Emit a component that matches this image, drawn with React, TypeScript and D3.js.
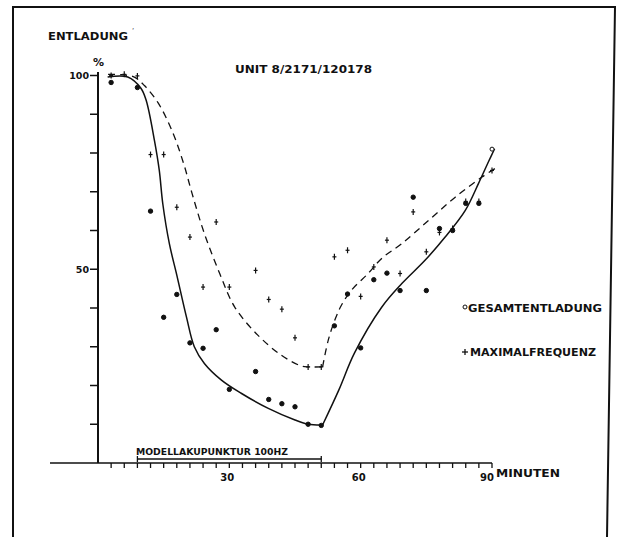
import React from 'react'
import * as d3 from 'd3'

// Gesamtentladung (o) – Messpunkte
const gesamtMinutes = [3, 9, 12, 15, 18, 21, 24, 27, 30, 36, 39, 42, 45, 48, 51, 54, 57, 60, 63, 66, 69, 72, 75, 78, 81, 84, 87, 90]
const gesamtValues = [98.2, 96.9, 65, 37.6, 43.5, 31, 29.6, 34.4, 19, 23.6, 16.4, 15.3, 14.5, 10, 9.7, 35.4, 43.6, 29.7, 47.3, 49, 44.5, 68.6, 44.5, 60.5, 60, 67, 67, 81]

// Maximalfrequenz (+) – Messpunkte
const maxMinutes = [3, 6, 9, 12, 15, 18, 21, 24, 27, 30, 36, 39, 42, 45, 48, 51, 54, 57, 60, 63, 66, 69, 72, 75, 78, 81, 84, 87, 90]
const maxValues = [100, 100.3, 99.9, 79.6, 79.6, 66, 58.3, 45.4, 62.2, 45.4, 49.7, 42.2, 39.7, 32.3, 24.8, 24.8, 53.2, 54.9, 43, 50.6, 57.5, 48.9, 64.8, 54.5, 59.5, 60.5, 67.5, 67.5, 75.5]

// hand-drawn trend curves (solid = Gesamtentladung, dashed = Maximalfrequenz)
const solidDownMin = [2.2, 6.8, 9.8, 11, 12.9, 14, 14.8, 16.3, 18, 20.2, 22, 24.3, 28.2, 32.7, 38.9, 45, 48, 51.3]
const solidDownVal = [99.6, 99.6, 96.7, 93.6, 83.2, 75.5, 66.9, 56.6, 48.5, 37.7, 30, 25.7, 21.4, 18, 14.1, 11.1, 10, 9.8]
const solidUpMin = [51.3, 55, 58.6, 64.8, 69.4, 74.7, 79.3, 83.9, 86.9, 89.3, 90.6]
const solidUpVal = [9.8, 18.8, 28.4, 40.2, 46.3, 52.3, 58.3, 65.2, 72.1, 78, 81.1]

const dashedDownMin = [2.3, 5.3, 8.3, 10.6, 13.7, 17, 19.5, 21.5, 24.3, 27.8, 31.2, 36.5, 41.9, 46.5, 48.2, 51.3]
const dashedDownVal = [100.3, 100.2, 99.6, 97.4, 93, 85.5, 77.5, 69.5, 59.2, 48.9, 40.3, 33, 27.8, 25, 24.8, 24.8]
const dashedUpMin = [51.3, 52.6, 54.1, 55.6, 57.9, 61.7, 64.8, 69.4, 75.5, 81.6, 87.7, 90.7]
const dashedUpVal = [24.8, 31.7, 36.9, 40.7, 44.6, 48.9, 52.8, 56.6, 62.6, 68.6, 73.8, 76]

const xTickLabels = [30, 60, 90]
const yTickLabels = [100, 50]
const stimStart = 9
const stimEnd = 51

const W = 617
const H = 537
const font = '"DejaVu Sans", "Liberation Sans", sans-serif'

const x = d3.scaleLinear().domain([0, 90]).range([98, 492])
const y = d3.scaleLinear().domain([0, 100]).range([463, 75.5])

const line = d3
  .line<[number, number]>()
  .x(d => x(d[0]))
  .y(d => y(d[1]))
  .curve(d3.curveCatmullRom.alpha(0.5))

const pts = (m: number[], v: number[]) => m.map((d, i) => [d, v[i]] as [number, number])

export default function App() {
  const xTicks = d3.range(0, 91, 3)
  const yTicks = d3.range(10, 101, 10)
  const ink = '#111'

  return (
    <svg
      width={W}
      height={H}
      style={{ position: 'absolute', left: 0, top: 0, background: '#fff' }}
      fontFamily={font}
      fontWeight="bold"
      fill={ink}
    >
      {/* frame */}
      <path d={`M13,${H} L13,7 L615,7 L607,${H}`} fill="none" stroke={ink} strokeWidth={2} />

      {/* axes */}
      <line x1={x(0)} x2={x(0)} y1={72} y2={y(0)} stroke={ink} strokeWidth={2} />
      <line x1={50} x2={x(90)} y1={y(0)} y2={y(0)} stroke={ink} strokeWidth={1.6} />
      {yTicks.map(t => (
        <line key={t} x1={x(0) - 8} x2={x(0)} y1={y(t)} y2={y(t)} stroke={ink} strokeWidth={1.5} />
      ))}
      {xTicks.slice(1).map(t => (
        <line key={t} x1={x(t)} x2={x(t)} y1={y(0)} y2={y(0) + 5} stroke={ink} strokeWidth={1.3} />
      ))}
      {yTickLabels.map(t => (
        <text key={t} x={x(0) - 9} y={y(t)} dy="0.36em" textAnchor="end" fontSize={9.5}>
          {t}
        </text>
      ))}
      {xTickLabels.map(t => (
        <text key={t} x={t === 90 ? x(t) - 5 : x(t) - 2} y={y(0) + 18} textAnchor="middle" fontSize={10}>
          {t}
        </text>
      ))}
      <text x={x(90) + 4} y={y(0) + 14} fontSize={10} textLength={64} lengthAdjust="spacingAndGlyphs">
        MINUTEN
      </text>

      <text x={48} y={40} fontSize={10} textLength={80} lengthAdjust="spacingAndGlyphs">
        ENTLADUNG
      </text>
      <text x={132} y={33} fontSize={7} fontWeight="normal">
        ʻ
      </text>
      <text x={x(0) - 5} y={66} fontSize={11}>
        %
      </text>
      <text x={235} y={73} fontSize={11} textLength={137} lengthAdjust="spacingAndGlyphs">
        UNIT 8/2171/120178
      </text>

      {/* stimulation bracket */}
      <text x={136} y={455} fontSize={9.5} textLength={152} lengthAdjust="spacingAndGlyphs">
        MODELLAKUPUNKTUR 100HZ
      </text>
      <line x1={x(stimStart)} x2={x(stimEnd)} y1={459} y2={459} stroke={ink} strokeWidth={1.6} />
      <line x1={x(stimStart)} x2={x(stimStart)} y1={456} y2={462} stroke={ink} strokeWidth={1.3} />
      <line x1={x(stimEnd)} x2={x(stimEnd)} y1={456} y2={462} stroke={ink} strokeWidth={1.3} />

      {/* curves */}
      <path d={line(pts(solidDownMin, solidDownVal)) || ''} fill="none" stroke={ink} strokeWidth={1.5} />
      <path d={line(pts(solidUpMin, solidUpVal)) || ''} fill="none" stroke={ink} strokeWidth={1.5} />
      <path d={line(pts(dashedDownMin, dashedDownVal)) || ''} fill="none" stroke={ink} strokeWidth={1.3} strokeDasharray="7,5" />
      <path d={line(pts(dashedUpMin, dashedUpVal)) || ''} fill="none" stroke={ink} strokeWidth={1.3} strokeDasharray="7,5" />

      {/* points */}
      {gesamtMinutes.map((m, i) => (
        <circle key={'g' + i} cx={x(m)} cy={y(gesamtValues[i])} r={i === gesamtMinutes.length - 1 ? 2 : 2.2} fill={i === gesamtMinutes.length - 1 ? '#fff' : ink} stroke={ink} strokeWidth={1} />
      ))}
      {maxMinutes.map((m, i) => (
        <g key={'m' + i} transform={`translate(${x(m)},${y(maxValues[i])})`} stroke={ink} strokeWidth={1.2}>
          <line x1={-2} x2={2} y1={0} y2={0} />
          <line x1={0} x2={0} y1={-3} y2={3} />
        </g>
      ))}

      {/* legend */}
      <circle cx={465} cy={307} r={2} fill="#fff" stroke={ink} strokeWidth={1} />
      <text x={468} y={312} fontSize={10.5} textLength={134} lengthAdjust="spacingAndGlyphs">
        GESAMTENTLADUNG
      </text>
      <g transform="translate(465,352)" stroke={ink} strokeWidth={1.3}>
        <line x1={-3} x2={3} y1={0} y2={0} />
        <line x1={0} x2={0} y1={-3} y2={3} />
      </g>
      <text x={470} y={356} fontSize={10.5} textLength={126} lengthAdjust="spacingAndGlyphs">
        MAXIMALFREQUENZ
      </text>
    </svg>
  )
}
